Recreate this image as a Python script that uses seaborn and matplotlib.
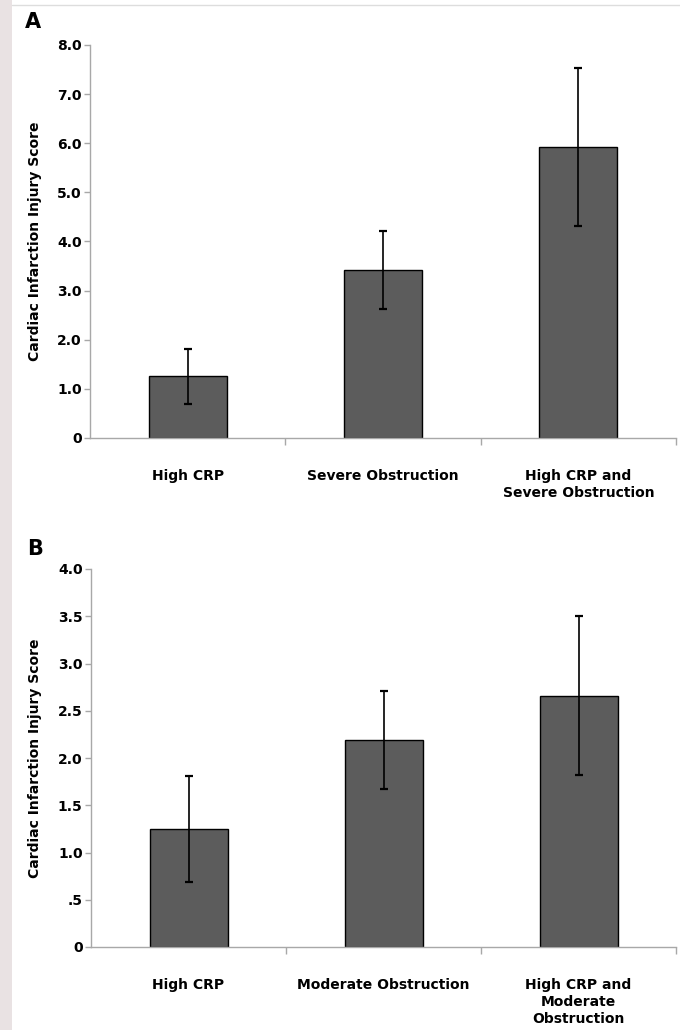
import matplotlib
matplotlib.use("Agg")
import matplotlib.pyplot as plt
import seaborn as sns
import pandas as pd
from matplotlib.patches import Rectangle
from matplotlib.lines import Line2D

# ---- data ----
cats_a = ["High CRP", "Severe Obstruction", "High CRP and\nSevere Obstruction"]
means_a = [1.26, 3.42, 5.93]
errs_a = [0.56, 0.79, 1.61]
yticks_a = [0, 1, 2, 3, 4, 5, 6, 7, 8]
yticklabels_a = ["0", "1.0", "2.0", "3.0", "4.0", "5.0", "6.0", "7.0", "8.0"]

cats_b = ["High CRP", "Moderate Obstruction", "High CRP and\nModerate\nObstruction"]
means_b = [1.25, 2.19, 2.66]
errs_b = [0.56, 0.52, 0.84]
yticks_b = [0, 0.5, 1.0, 1.5, 2.0, 2.5, 3.0, 3.5, 4.0]
yticklabels_b = ["0", ".5", "1.0", "1.5", "2.0", "2.5", "3.0", "3.5", "4.0"]

ylabel = "Cardiac Infarction Injury Score"

sns.set_style("white")
plt.rcParams['font.family'] = ['DejaVu Sans']
plt.rcParams['text.color'] = 'black'

W, H = 680, 1030
fig = plt.figure(figsize=(W / 100, H / 100), dpi=100)
fig.patch.set_facecolor("white")

# left strip and top border
fig.add_artist(Rectangle((0, 0), 12 / W, 1, transform=fig.transFigure,
                         facecolor="#e9e2e3", edgecolor="none", zorder=0))
fig.add_artist(Line2D([12 / W, 1], [1 - 5 / H, 1 - 5 / H], transform=fig.transFigure,
                      color="#dddddd", lw=1))

bar_color = "#5c5c5c"
spine_color = "#a8a8a8"


def panel(rect, cats, means, errs, yticks, ylabels, ymax, letter, letter_xy, ylab_y):
    ax = fig.add_axes(rect)
    df = pd.DataFrame({"cat": cats, "val": means})
    sns.barplot(data=df, x="cat", y="val", ax=ax, color=bar_color, width=0.40,
                edgecolor="black", linewidth=1.0, saturation=1)
    ax.errorbar(x=list(range(len(cats))), y=means, yerr=errs, fmt="none",
                ecolor="black", elinewidth=1.2, capsize=3, capthick=1.6, zorder=5)
    ax.set_xlim(-0.5, len(cats) - 0.5)
    ax.set_ylim(0, ymax)
    ax.set_yticks(yticks)
    ax.set_yticklabels(ylabels, fontsize=10, fontweight="bold", color="black")
    ax.set_xticks(range(len(cats)))
    ax.set_xticklabels(cats, fontsize=10, fontweight="bold", linespacing=1.3, va="top",
                       color="black")
    ax.tick_params(axis="x", which="major", length=0, pad=22)
    ax.set_xticks([0.5, 1.5, 2.5], minor=True)
    ax.tick_params(axis="x", which="minor", bottom=True, length=5, direction="out",
                   color=spine_color, width=1)
    ax.tick_params(axis="y", left=True, length=4, direction="out", color=spine_color,
                   width=1, pad=2)
    ax.set_xlabel("")
    ax.set_ylabel("")
    for s in ["top", "right"]:
        ax.spines[s].set_visible(False)
    for s in ["left", "bottom"]:
        ax.spines[s].set_color(spine_color)
        ax.spines[s].set_linewidth(1)
    ax.set_facecolor("white")
    fig.text(letter_xy[0] / W, 1 - letter_xy[1] / H, letter, fontsize=15, fontweight="bold",
             ha="center", va="center", color="black")
    fig.text(35 / W, 1 - ylab_y / H, ylabel, rotation=90, fontsize=10, fontweight="bold",
             ha="center", va="center", color="black")
    return ax


def rect(left, top, right, bottom):
    return [left / W, 1 - bottom / H, (right - left) / W, (bottom - top) / H]


panel(rect(90, 45, 676, 438), cats_a, means_a, errs_a, yticks_a, yticklabels_a, 8,
      "A", (33, 22), 241)
panel(rect(91, 569, 676, 947), cats_b, means_b, errs_b, yticks_b, yticklabels_b, 4,
      "B", (35, 549), 758)

fig.savefig("out.png", dpi=100, facecolor="white")
